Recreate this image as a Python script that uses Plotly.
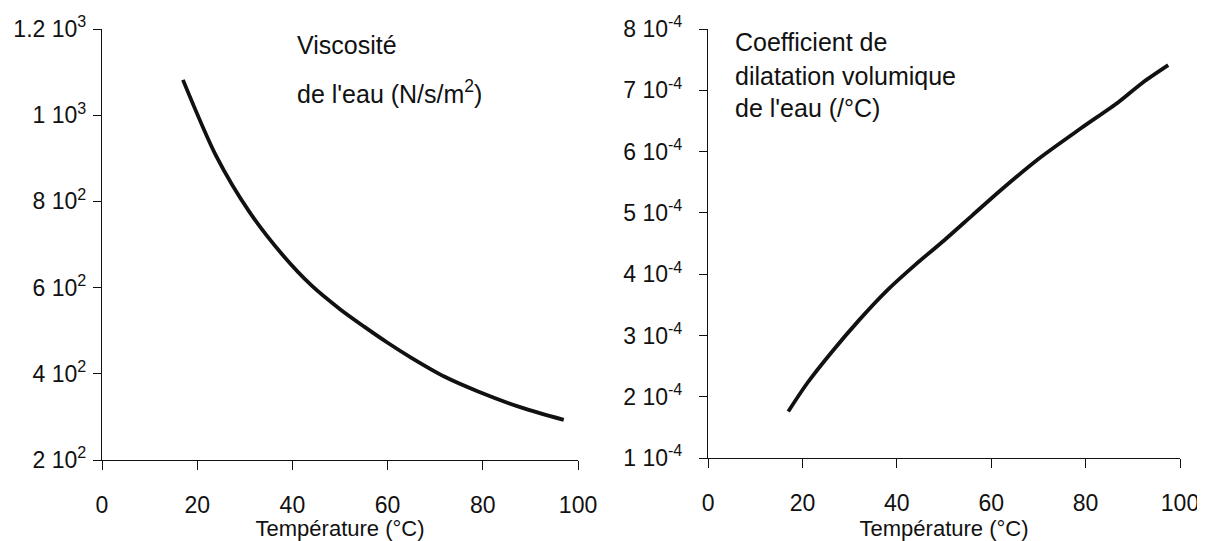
import plotly.graph_objects as go

# Viscosity of water (left panel)
visc_temp = [17, 24, 31, 38, 44, 50, 55, 60, 65, 72, 79, 88, 97]
visc_vals = [1082, 905, 775, 675, 605, 550, 510, 472, 437, 393, 359, 322, 293]

# Volumetric expansion coefficient of water (right panel)
dil_temp = [17, 21, 26, 32, 38, 44, 50, 56, 62, 70, 79, 87, 92, 97.5]
dil_vals = [1.76e-4, 2.22e-4, 2.71e-4, 3.25e-4, 3.74e-4, 4.16e-4, 4.55e-4,
            4.96e-4, 5.37e-4, 5.88e-4, 6.38e-4, 6.81e-4, 7.12e-4, 7.41e-4]

x_ticks = [0, 20, 40, 60, 80, 100]
visc_tickvals = [200, 400, 600, 800, 1000, 1200]
visc_ticktext = ["2 10<sup>2</sup>", "4 10<sup>2</sup>", "6 10<sup>2</sup>",
                 "8 10<sup>2</sup>", "1 10<sup>3</sup>", "1.2 10<sup>3</sup>"]
dil_tickvals = [1e-4, 2e-4, 3e-4, 4e-4, 5e-4, 6e-4, 7e-4, 8e-4]
dil_ticktext = [f"{i} 10<sup>-4</sup>" for i in range(1, 9)]

FONT = "Liberation Sans, Arial, Helvetica, sans-serif"
INK = "#111111"

fig = go.Figure()
fig.add_trace(go.Scatter(x=visc_temp, y=visc_vals, mode="lines",
                         line=dict(color=INK, width=3.8, shape="spline", smoothing=0.8),
                         xaxis="x", yaxis="y", showlegend=False))
fig.add_trace(go.Scatter(x=dil_temp, y=dil_vals, mode="lines",
                         line=dict(color=INK, width=3.8, shape="spline", smoothing=0.8),
                         xaxis="x2", yaxis="y2", showlegend=False))

xcommon = dict(range=[0, 100], tickvals=x_ticks, ticks="outside", ticklen=9, tickwidth=1.2,
               tickcolor=INK, showline=True, linecolor=INK, linewidth=1.3, showgrid=False,
               zeroline=False, tickfont=dict(family=FONT, size=23, color=INK),
               ticklabelstandoff=15, automargin=False,
               title=dict(text="Température (°C)", font=dict(family=FONT, size=22, color=INK), standoff=8))
ycommon = dict(ticks="outside", ticklen=8, tickwidth=1.2, tickcolor=INK, showline=True,
               linecolor=INK, linewidth=1.3, showgrid=False, zeroline=False,
               tickfont=dict(family=FONT, size=23, color=INK), automargin=False)

# the page body adds an 8px offset, so the figure is sized to the visible area
fig.update_layout(
    width=1197, height=533,
    margin=dict(l=94, r=25, t=21, b=81),
    paper_bgcolor="white", plot_bgcolor="white",
    xaxis=dict(domain=[0, 0.4416], anchor="y", **xcommon),
    yaxis=dict(domain=[0, 1], anchor="x", range=[200, 1200], tickvals=visc_tickvals,
               ticktext=visc_ticktext, ticklabelstandoff=2, **ycommon),
    xaxis2=dict(domain=[0.5622, 1.0], anchor="y2", **xcommon),
    yaxis2=dict(domain=[0.0046, 1], anchor="x2", range=[1e-4, 8e-4], tickvals=dil_tickvals,
                ticktext=dil_ticktext, ticklabelstandoff=12, **ycommon),
    showlegend=False,
)

ann_font = dict(family=FONT, size=25, color=INK)
annots = [
    ("Viscosité", 295, 45),
    ("de l'eau (N/s/m<sup>2</sup>)", 295, 92),
    ("Coefficient de", 733, 42),
    ("dilatation volumique", 733, 76),
    ("de l'eau (/°C)", 733, 108),
]
for text, px, py in annots:
    fig.add_annotation(text=text, xref="paper", yref="paper",
                       x=(px - 102) / 1078, y=1 - (py - 29) / 431,
                       xanchor="left", yanchor="middle", showarrow=False, font=ann_font)

fig.write_html("out.html")
